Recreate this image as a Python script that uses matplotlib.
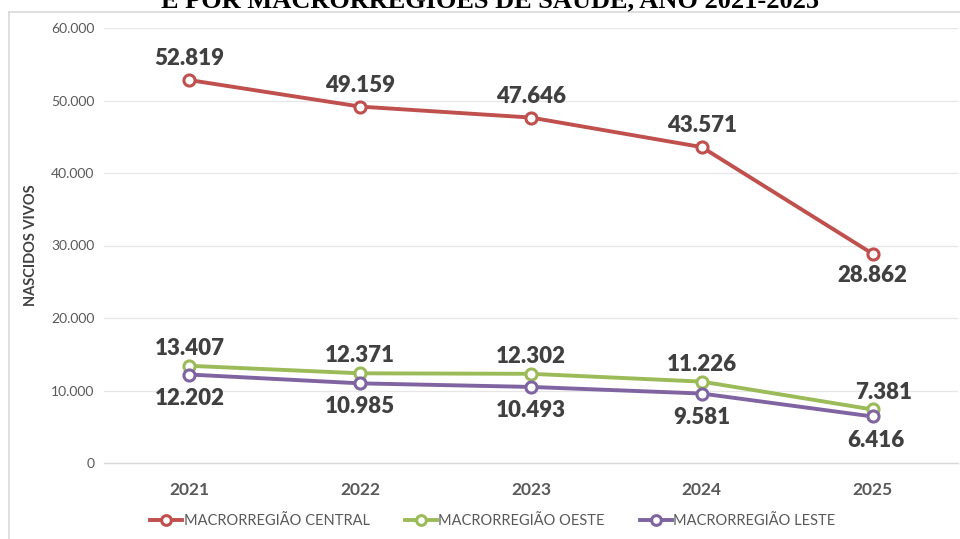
import matplotlib.pyplot as plt
from matplotlib.lines import Line2D

anos = ['2021', '2022', '2023', '2024', '2025']
central = [52819, 49159, 47646, 43571, 28862]
oeste = [13407, 12371, 12302, 11226, 7381]
leste = [12202, 10985, 10493, 9581, 6416]
nomes = ['MACRORREGIÃO CENTRAL', 'MACRORREGIÃO OESTE', 'MACRORREGIÃO LESTE']
cores = ['#C0504D', '#9BBB59', '#8064A2']


def fmt(v):
    return f'{v:,}'.replace(',', '.')


plt.rcParams['font.family'] = ['Lato', 'DejaVu Sans']

fig = plt.figure(figsize=(9.6, 5.39), dpi=100)
ax = fig.add_axes([104 / 960, 1 - 463 / 539, 854 / 960, 435 / 539])

x = list(range(len(anos)))
for serie, nome, cor in zip([central, oeste, leste], nomes, cores):
    ax.plot(x, serie, color=cor, lw=2.8, marker='o', ms=8, mfc='white',
            mec=cor, mew=2.2, label=nome, zorder=3)

# rotulos de dados (acima / abaixo como no original)
lbl = dict(fontsize=16, fontweight='heavy', color='#404040', ha='center', va='center')
for i, v in enumerate(central):
    dy = -16 if i == 4 else 15.5
    ax.annotate(fmt(v), (i, v), xytext=(0, dy), textcoords='offset points', **lbl)
for i, v in enumerate(oeste):
    dx = 8 if i == 4 else 0
    ax.annotate(fmt(v), (i, v), xytext=(dx, 12.5), textcoords='offset points', **lbl)
for i, v in enumerate(leste):
    dx = 2 if i == 4 else 0
    ax.annotate(fmt(v), (i, v), xytext=(dx, -17), textcoords='offset points', **lbl)

ax.set_xlim(-0.5, 4.5)
ax.set_ylim(0, 60000)
ax.set_yticks(range(0, 60001, 10000))
ax.set_yticklabels([fmt(t) for t in range(0, 60001, 10000)])
ax.set_xticks(x)
ax.set_xticklabels(anos, fontweight='bold')
ax.tick_params(axis='x', length=0, pad=14, labelsize=12.5, labelcolor='#595959')
ax.tick_params(axis='y', length=0, pad=7, labelsize=10, labelcolor='#595959')
ax.grid(axis='y', color='#E6E6E6', lw=0.9)
ax.set_axisbelow(True)
for s in ['top', 'right', 'left']:
    ax.spines[s].set_visible(False)
ax.spines['bottom'].set_color('#D9D9D9')
ax.spines['bottom'].set_linewidth(1.0)
ax.set_ylabel('NASCIDOS VIVOS', fontsize=10.5, fontweight='bold', color='#404040', labelpad=9)

handles = [Line2D([], [], color=c, lw=2.8, marker='o', ms=7, mfc='white', mec=c, mew=2.2)
           for c in cores]
fig.legend(handles, nomes, loc='center', bbox_to_anchor=(493 / 960, 1 - 521 / 539),
           ncol=3, frameon=False, fontsize=10.5, labelcolor='#595959',
           handlelength=2.2, handletextpad=0.1, columnspacing=2.4)

# borda da area do grafico
fig.add_artist(Line2D([9 / 960, 9 / 960], [0, 1 - 12 / 539], color='#D9D9D9', lw=1.2,
                      transform=fig.transFigure))
fig.add_artist(Line2D([9 / 960, 1], [1 - 12 / 539, 1 - 12 / 539], color='#D9D9D9', lw=1.2,
                      transform=fig.transFigure))

# titulo cortado no topo
fig.text(490 / 960, 1 - 7 / 539, 'E POR MACRORREGIÕES DE SAÚDE, ANO 2021-2025',
         fontsize=19, fontweight='bold', family='Liberation Serif', ha='center',
         va='baseline', color='black')

fig.savefig('out.png', dpi=100)
